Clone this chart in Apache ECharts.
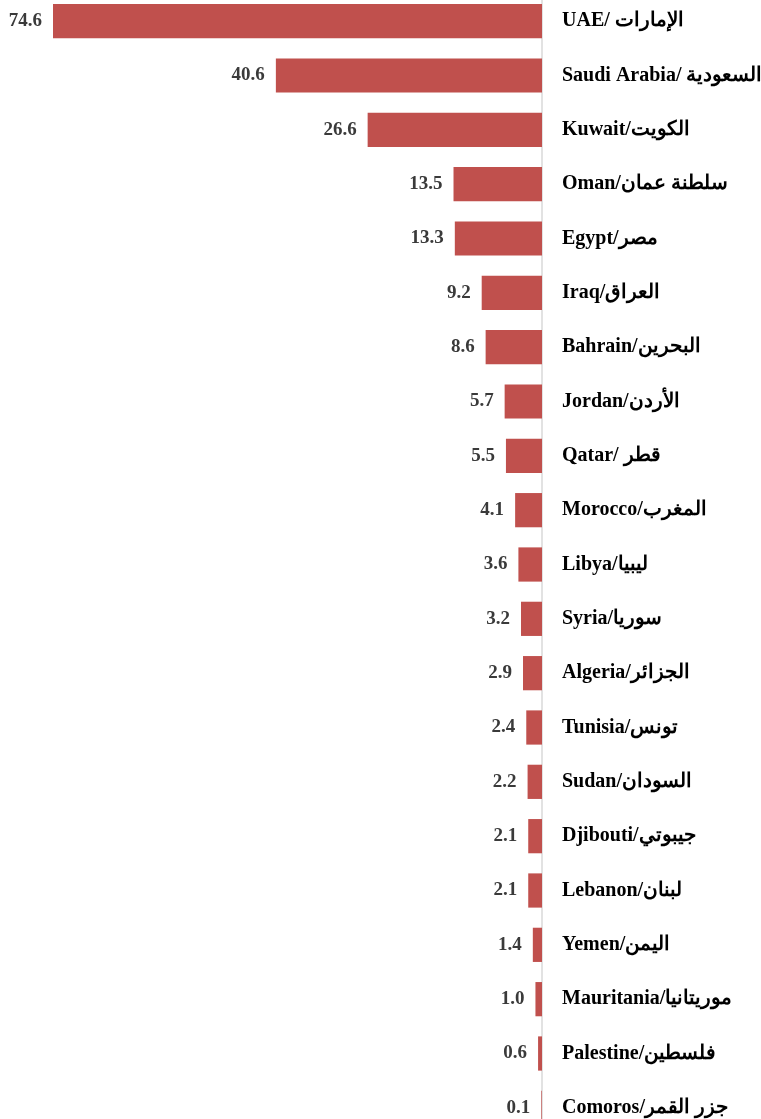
<!DOCTYPE html>
<html>
<head>
<meta charset="utf-8">
<script src="https://cdn.jsdelivr.net/npm/echarts@6/dist/echarts.min.js"></script>
<style>
html,body{margin:0;padding:0;background:#fff;}
#chart{width:761px;height:1119px;}
</style>
</head>
<body>
<div id="chart"></div>
<script>
const categories = [
  "UAE/ الإمارات", "Saudi Arabia/ السعودية", "Kuwait/الكويت", "Oman/سلطنة عمان",
  "Egypt/مصر", "Iraq/العراق", "Bahrain/البحرين", "Jordan/الأردن", "Qatar/ قطر",
  "Morocco/المغرب", "Libya/ليبيا", "Syria/سوريا", "Algeria/الجزائر", "Tunisia/تونس",
  "Sudan/السودان", "Djibouti/جيبوتي", "Lebanon/لبنان", "Yemen/اليمن",
  "Mauritania/موريتانيا", "Palestine/فلسطين", "Comoros/جزر القمر"
];
const values = [74.6, 40.6, 26.6, 13.5, 13.3, 9.2, 8.6, 5.7, 5.5, 4.1, 3.6, 3.2, 2.9, 2.4, 2.2, 2.1, 2.1, 1.4, 1.0, 0.6, 0.1];

const chart = echarts.init(document.getElementById('chart'));
chart.setOption({
  animation: false,
  grid: { left: 53, right: 219, top: -6, height: 1141, containLabel: false, outerBoundsMode: 'none' },
  xAxis: {
    type: 'value', min: 0, max: 74.6, inverse: true,
    show: false
  },
  yAxis: {
    type: 'category', data: categories, inverse: true, position: 'right',
    axisLine: { show: true, lineStyle: { color: '#d9d9d9', width: 1.5 } },
    axisTick: { show: false },
    axisLabel: {
      margin: 20, align: 'left',
      fontFamily: '"Liberation Serif", "Times New Roman", serif',
      fontWeight: 'bold', fontSize: 20, color: '#000'
    }
  },
  series: [{
    type: 'bar', data: values, barCategoryGap: '37%',
    itemStyle: { color: '#C0504D' },
    label: {
      show: true, position: 'left', distance: 11,
      formatter: p => p.value.toFixed(1),
      fontFamily: '"Liberation Serif", "Times New Roman", serif',
      fontWeight: 'bold', fontSize: 19, color: '#3a3a3a'
    }
  }]
});
</script>
</body>
</html>
